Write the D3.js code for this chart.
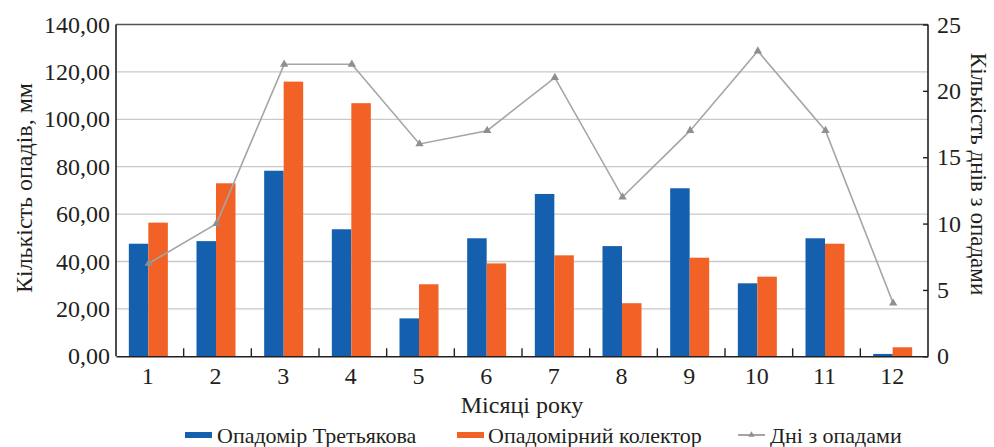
<!DOCTYPE html>
<html><head><meta charset="utf-8">
<script src="https://cdn.jsdelivr.net/npm/d3@7"></script>
<style>body{margin:0;background:#fff}svg{display:block}text{font-family:"Liberation Serif","Times New Roman","DejaVu Serif","Noto Serif",serif !important;fill:#231f20}</style>
</head><body><svg id="c" width="994" height="447"></svg>
<script>
const months = ["1","2","3","4","5","6","7","8","9","10","11","12"];
const tretyakov = [47.5,48.6,78.3,53.6,16.0,49.8,68.5,46.5,70.9,30.8,49.8,1.0];
const collector = [56.4,73.0,115.9,106.8,30.4,39.2,42.6,22.4,41.6,33.6,47.5,3.8];
const rainDays = [7,10,22,22,16,17,21,12,17,23,17,4];
const leftTicks = [0,20,40,60,80,100,120,140];
const rightTicks = [0,5,10,15,20,25];
const seriesNames = ["Опадомір Третьякова","Опадомірний колектор","Дні з опадами"];

const svg = d3.select("#c");
const L=116, R=928, T=24.5, B=356.3;
const x = d3.scaleBand().domain(months).range([L,R]);
const xs = d3.scaleBand().domain([0,1]).range([0,39]);
const y = d3.scaleLinear().domain([0,140]).range([B,T]);
const y2 = d3.scaleLinear().domain([0,25]).range([B,T]);
const blue="#1560ae", orange="#f26125", grey="#a5a5a5";

// grid
svg.append("g").selectAll("line").data(leftTicks.filter(d=>d>0&&d<140)).join("line")
  .attr("x1",L).attr("x2",R).attr("y1",d=>y(d)).attr("y2",d=>y(d))
  .attr("stroke","#c9c9c9").attr("stroke-width",1.3);

// bars
const off = d=>x(d)+x.bandwidth()/2-19.5-1.5;
svg.append("g").selectAll("rect").data(months).join("rect")
  .attr("x",d=>off(d)+xs(0)).attr("width",xs.bandwidth())
  .attr("y",(d,i)=>y(tretyakov[i])).attr("height",(d,i)=>B-y(tretyakov[i])).attr("fill",blue);
svg.append("g").selectAll("rect").data(months).join("rect")
  .attr("x",d=>off(d)+xs(1)).attr("width",xs.bandwidth())
  .attr("y",(d,i)=>y(collector[i])).attr("height",(d,i)=>B-y(collector[i])).attr("fill",orange);

// line
const cx = d=>x(d)+x.bandwidth()/2-1;
const line = d3.line().x((d,i)=>cx(months[i])).y(d=>y2(d));
svg.append("path").datum(rainDays).attr("d",line).attr("fill","none").attr("stroke",grey).attr("stroke-width",1.6);
const tri = d3.symbol().type(d3.symbolTriangle).size(30);
svg.append("g").selectAll("path").data(rainDays).join("path")
  .attr("d",tri).attr("transform",(d,i)=>`translate(${cx(months[i])},${y2(d)})`).attr("fill","#8f8f8f");

// axes frame
const ax = svg.append("g").attr("stroke","#231f20").attr("stroke-width",1.6);
ax.append("line").attr("x1",L).attr("x2",R).attr("y1",T).attr("y2",T).attr("stroke","#555");
ax.append("line").attr("x1",L).attr("x2",L).attr("y1",T).attr("y2",B);
ax.append("line").attr("x1",R).attr("x2",R).attr("y1",T).attr("y2",B);

// left axis labels
svg.append("g").selectAll("text").data(leftTicks).join("text")
  .attr("x",L-6).attr("y",d=>y(d)+8).attr("text-anchor","end").attr("font-size",24)
  .text(d=>d3.format(".2f")(d).replace(".",","));

// right axis
const ra = svg.append("g").attr("transform",`translate(${R},0)`)
  .call(d3.axisRight(y2).tickValues(rightTicks).tickSize(-5).tickPadding(9));
ra.select(".domain").remove();
ra.selectAll("line").attr("stroke","#231f20").attr("stroke-width",1.4);
ra.selectAll("text").attr("font-size",24).attr("fill","#231f20").attr("dy","0.32em");

// bottom axis
const bx = svg.append("g").attr("transform",`translate(0,${B})`)
  .call(d3.axisBottom(x).tickSize(0).tickPadding(11));
bx.select(".domain").attr("stroke","#231f20").attr("stroke-width",1.6);
bx.selectAll("text").attr("font-size",24).attr("fill","#231f20").attr("dx","-2");
svg.append("g").selectAll("line").data(months.slice(1)).join("line")
  .attr("x1",d=>x(d)).attr("x2",d=>x(d)).attr("y1",B-8).attr("y2",B)
  .attr("stroke","#231f20").attr("stroke-width",1.4);

// titles
svg.append("text").attr("x",522).attr("y",413).attr("text-anchor","middle").attr("font-size",24).text("Місяці року");
svg.append("text").attr("transform","translate(32,188) rotate(-90)").attr("text-anchor","middle").attr("font-size",24).text("Кількість опадів, мм");
svg.append("text").attr("transform","translate(971,174) rotate(90)").attr("text-anchor","middle").attr("font-size",23).text("Кількість днів з опадами");

// legend
const lg = svg.append("g");
lg.append("rect").attr("x",185).attr("y",432).attr("width",27).attr("height",6).attr("fill",blue);
lg.append("text").attr("x",217).attr("y",443).attr("font-size",22).text(seriesNames[0]);
lg.append("rect").attr("x",457).attr("y",432).attr("width",27).attr("height",6).attr("fill",orange);
lg.append("text").attr("x",488).attr("y",443).attr("font-size",22).text(seriesNames[1]);
lg.append("line").attr("x1",738).attr("x2",765).attr("y1",435).attr("y2",435).attr("stroke",grey).attr("stroke-width",2);
lg.append("path").attr("d",d3.symbol().type(d3.symbolTriangle).size(18)).attr("transform","translate(751.5,435)").attr("fill","#8f8f8f");
lg.append("text").attr("x",770).attr("y",443).attr("font-size",22).text(seriesNames[2]);
</script></body></html>
